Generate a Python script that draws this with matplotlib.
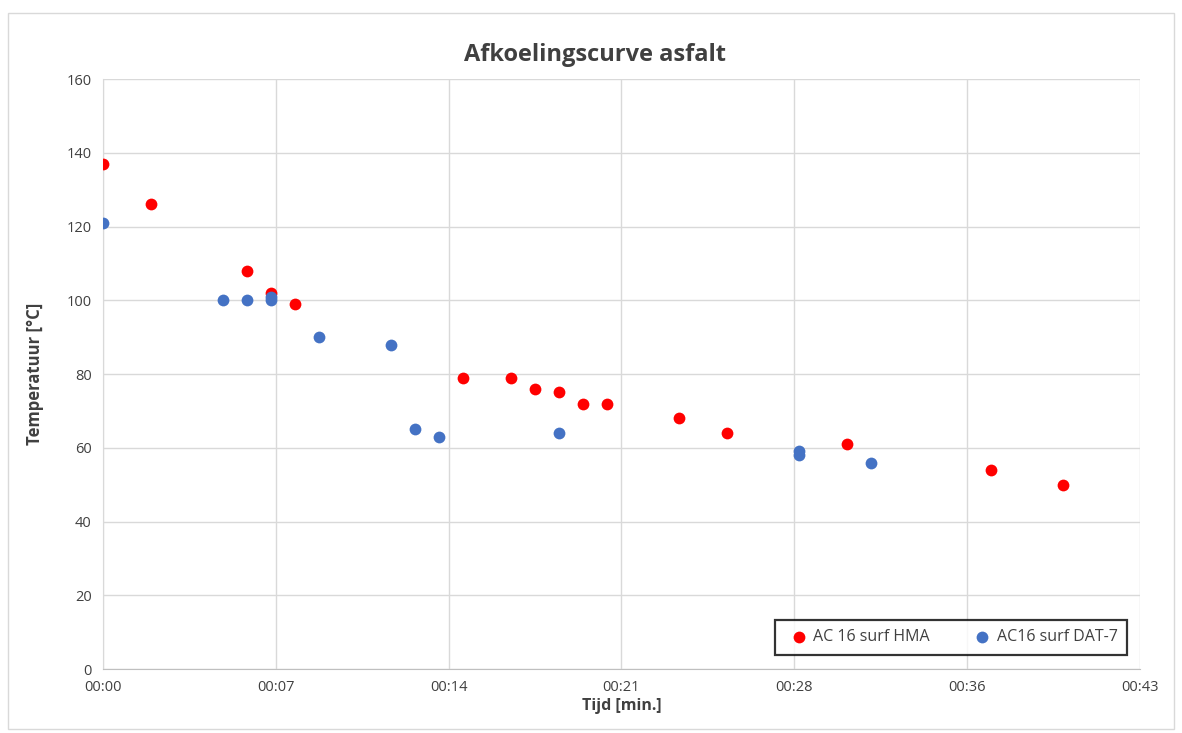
import matplotlib
matplotlib.use("Agg")
import matplotlib.pyplot as plt
from matplotlib.patches import Rectangle

plt.rcParams['font.family'] = ['Open Sans', 'DejaVu Sans']

# Data (time in minutes, temperature in °C)
hma_time = [0, 2, 6, 7, 8, 15, 17, 18, 19, 20, 21, 24, 26, 31, 37, 40]
hma_temp = [137, 126, 108, 102, 99, 79, 79, 76, 75, 72, 72, 68, 64, 61, 54, 50]
dat_time = [0, 5, 6, 7, 7, 9, 12, 13, 14, 19, 29, 29, 32]
dat_temp = [121, 100, 100, 101, 100, 90, 88, 65, 63, 64, 59, 58, 56]

x_ticks = [0, 7.2, 14.4, 21.6, 28.8, 36.0, 43.2]
x_ticklabels = ["00:00", "00:07", "00:14", "00:21", "00:28", "00:36", "00:43"]
y_ticks = [0, 20, 40, 60, 80, 100, 120, 140, 160]

fig = plt.figure(figsize=(11.82, 7.33), dpi=100)
# outer chart border
fig.patches.append(Rectangle((0.007, 0.005), 0.986, 0.977, transform=fig.transFigure,
                             fill=False, edgecolor='#d9d9d9', linewidth=1.0))
ax = fig.add_axes([0.0871, 0.0873, 0.8774, 0.8049])

ax.scatter(hma_time, hma_temp, s=72, color='#ff0000', label='AC 16 surf HMA', zorder=3, linewidths=0)
ax.scatter(dat_time, dat_temp, s=72, color='#4472c4', label='AC16 surf DAT-7', zorder=3, linewidths=0)

ax.set_xlim(0, 43.2)
ax.set_ylim(0, 160)
ax.set_xticks(x_ticks)
ax.set_xticklabels(x_ticklabels)
ax.set_yticks(y_ticks)
ax.grid(True, color='#d9d9d9', linewidth=1.0)
ax.set_axisbelow(True)
for s in ['top', 'right']:
    ax.spines[s].set_visible(False)
ax.spines['left'].set_color('#d9d9d9')
ax.spines['bottom'].set_color('#bfbfbf')
ax.tick_params(length=0, labelsize=10.5, colors='#404040', pad=8)

fig.text(0.503, 0.925, 'Afkoelingscurve asfalt', fontsize=17, fontweight='bold',
         color='#404040', ha='center', va='center')
ax.set_xlabel('Tijd [min.]', fontsize=11.5, fontweight='bold', color='#404040', labelpad=2)
ax.set_ylabel('Temperatuur [°C]', fontsize=12, fontweight='bold', color='#404040', labelpad=16)

leg = ax.legend(loc='lower right', bbox_to_anchor=(0.9875, 0.024), ncol=2, frameon=True,
                fancybox=False, edgecolor='black', fontsize=11.5, handletextpad=0.0,
                columnspacing=2.4, borderpad=0.6, markerscale=1.0, labelcolor='#404040',
                handlelength=1.8, borderaxespad=0.0)
leg.get_frame().set_linewidth(1.6)

fig.savefig('out.png', dpi=100)
